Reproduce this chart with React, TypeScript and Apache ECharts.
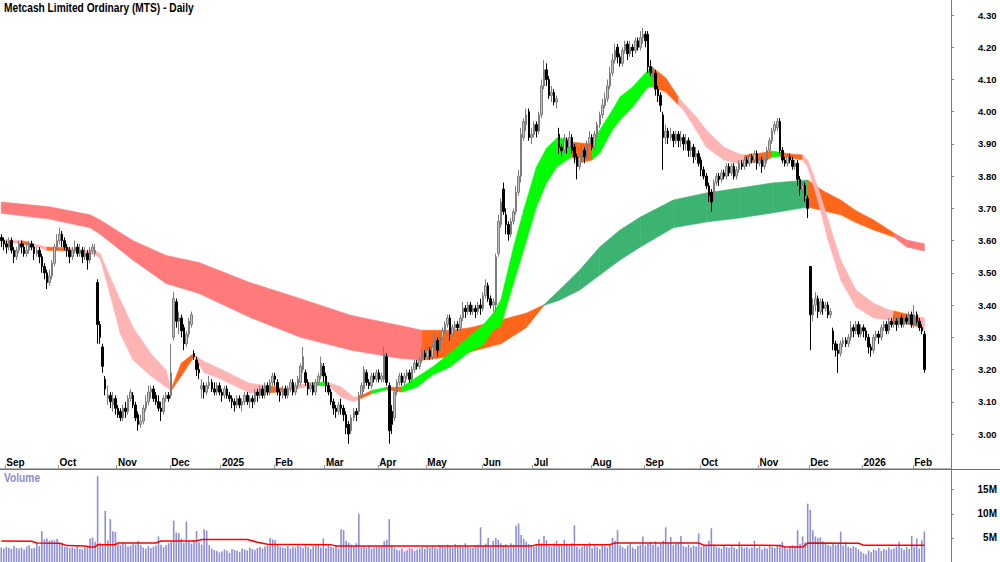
import React, { useEffect, useRef } from 'react';
import * as echarts from 'echarts';

const FONT = "'Liberation Sans', Arial, sans-serif";

// trading days per month (first entry: last two days of Aug 2024)
const months: [string, number][] = [
  ['', 2], ['Sep', 21], ['Oct', 23], ['Nov', 21], ['Dec', 20], ['2025', 21], ['Feb', 20], ['Mar', 21],
  ['Apr', 19], ['May', 22], ['Jun', 20], ['Jul', 23], ['Aug', 21], ['Sep', 22], ['Oct', 23], ['Nov', 20],
  ['Dec', 21], ['2026', 20], ['Feb', 5],
];
const padDays = 10;

// [open, close, low, high]
const candles: number[][] = [
  // Aug-Sep 2024
  [3.61,3.60,3.58,3.62],[3.60,3.59,3.57,3.61],[3.59,3.58,3.56,3.60],[3.58,3.60,3.57,3.61],[3.60,3.57,3.56,3.61],
  [3.57,3.55,3.53,3.58],[3.55,3.57,3.54,3.58],[3.57,3.59,3.56,3.60],[3.59,3.58,3.56,3.60],[3.58,3.56,3.55,3.59],
  [3.56,3.57,3.55,3.59],[3.57,3.59,3.56,3.60],[3.59,3.58,3.57,3.60],[3.58,3.56,3.54,3.59],[3.56,3.57,3.55,3.58],
  [3.57,3.55,3.53,3.58],[3.55,3.52,3.50,3.56],[3.52,3.50,3.48,3.53],[3.50,3.47,3.45,3.51],[3.47,3.49,3.46,3.51],
  [3.49,3.53,3.48,3.54],[3.53,3.58,3.52,3.59],[3.58,3.60,3.57,3.62],
  // Oct
  [3.60,3.62,3.59,3.64],[3.62,3.60,3.58,3.63],[3.60,3.58,3.57,3.61],[3.58,3.57,3.55,3.59],[3.57,3.55,3.53,3.58],
  [3.55,3.57,3.54,3.58],[3.57,3.58,3.56,3.60],[3.58,3.56,3.55,3.59],[3.56,3.57,3.55,3.59],[3.57,3.55,3.53,3.58],
  [3.55,3.56,3.54,3.58],[3.56,3.54,3.51,3.57],[3.54,3.57,3.53,3.58],[3.57,3.58,3.56,3.59],[3.56,3.57,3.55,3.59],
  [3.47,3.34,3.28,3.48],[3.34,3.30,3.28,3.35],[3.27,3.21,3.19,3.28],[3.17,3.14,3.12,3.18],[3.11,3.12,3.09,3.15],
  [3.12,3.10,3.08,3.13],[3.09,3.11,3.07,3.13],[3.11,3.08,3.06,3.12],
  // Nov
  [3.08,3.06,3.05,3.09],[3.07,3.05,3.04,3.08],[3.05,3.08,3.04,3.09],[3.08,3.07,3.05,3.10],[3.07,3.11,3.06,3.12],
  [3.11,3.13,3.10,3.14],[3.12,3.09,3.08,3.13],[3.09,3.05,3.04,3.10],[3.06,3.03,3.01,3.07],[3.03,3.04,3.02,3.06],
  [3.04,3.08,3.03,3.09],[3.08,3.10,3.07,3.12],[3.10,3.13,3.09,3.15],[3.13,3.14,3.11,3.15],[3.14,3.11,3.10,3.15],
  [3.12,3.10,3.09,3.13],[3.10,3.08,3.07,3.12],[3.08,3.07,3.04,3.10],[3.07,3.11,3.06,3.12],[3.11,3.12,3.10,3.13],
  [3.12,3.11,3.10,3.13],
  // Dec
  [3.12,3.19,3.11,3.28],[3.30,3.42,3.29,3.44],[3.41,3.35,3.33,3.42],[3.35,3.36,3.31,3.38],[3.36,3.32,3.30,3.37],
  [3.33,3.28,3.26,3.34],[3.28,3.31,3.27,3.32],[3.31,3.35,3.30,3.36],[3.34,3.37,3.33,3.38],[3.25,3.24,3.23,3.26],
  [3.23,3.20,3.18,3.24],[3.20,3.19,3.17,3.22],[3.14,3.15,3.11,3.17],[3.15,3.13,3.11,3.16],[3.13,3.15,3.12,3.16],
  [3.15,3.16,3.14,3.18],[3.16,3.14,3.13,3.17],[3.14,3.13,3.12,3.16],[3.13,3.15,3.12,3.16],[3.15,3.13,3.12,3.16],
  // Jan 2025
  [3.13,3.12,3.10,3.14],[3.12,3.14,3.11,3.15],[3.14,3.12,3.11,3.15],[3.12,3.11,3.10,3.13],[3.11,3.10,3.08,3.12],
  [3.10,3.09,3.07,3.11],[3.09,3.11,3.08,3.12],[3.11,3.09,3.08,3.12],[3.09,3.10,3.07,3.11],[3.10,3.12,3.09,3.13],
  [3.12,3.10,3.09,3.13],[3.10,3.11,3.08,3.12],[3.11,3.10,3.08,3.12],[3.10,3.13,3.09,3.14],[3.13,3.12,3.10,3.14],
  [3.12,3.14,3.11,3.15],[3.14,3.12,3.11,3.15],[3.12,3.15,3.11,3.16],[3.15,3.13,3.12,3.16],[3.13,3.16,3.12,3.17],
  [3.16,3.18,3.15,3.19],
  // Feb
  [3.18,3.17,3.15,3.19],[3.16,3.13,3.12,3.17],[3.13,3.12,3.10,3.14],[3.12,3.14,3.11,3.15],[3.14,3.12,3.11,3.15],
  [3.12,3.14,3.11,3.15],[3.14,3.16,3.13,3.17],[3.16,3.13,3.12,3.17],[3.13,3.15,3.12,3.16],[3.15,3.17,3.14,3.18],
  [3.16,3.21,3.15,3.22],[3.20,3.24,3.19,3.27],[3.19,3.16,3.15,3.20],[3.16,3.14,3.12,3.17],[3.14,3.15,3.13,3.16],
  [3.15,3.13,3.12,3.16],[3.13,3.16,3.12,3.17],[3.16,3.18,3.15,3.19],[3.18,3.22,3.17,3.24],[3.21,3.18,3.16,3.22],
  // Mar
  [3.18,3.15,3.13,3.19],[3.15,3.13,3.12,3.16],[3.13,3.10,3.09,3.14],[3.10,3.08,3.06,3.11],[3.08,3.07,3.05,3.09],
  [3.07,3.09,3.06,3.10],[3.09,3.08,3.06,3.11],[3.08,3.06,3.04,3.09],[3.06,3.02,3.00,3.07],[3.03,3.00,2.97,3.04],
  [3.01,3.05,3.00,3.06],[3.05,3.07,3.04,3.08],[3.07,3.06,3.04,3.08],[3.07,3.12,3.06,3.13],[3.12,3.15,3.11,3.16],
  [3.14,3.20,3.13,3.21],[3.19,3.16,3.15,3.20],[3.16,3.15,3.14,3.17],[3.15,3.18,3.14,3.19],[3.18,3.17,3.16,3.19],
  [3.17,3.19,3.16,3.20],
  // Apr
  [3.19,3.17,3.16,3.20],[3.17,3.18,3.16,3.19],[3.17,3.25,3.16,3.27],[3.24,3.16,3.15,3.25],[3.15,3.01,2.97,3.16],
  [3.07,3.03,3.00,3.09],[3.05,3.13,3.04,3.14],[3.13,3.16,3.12,3.17],[3.16,3.18,3.15,3.19],[3.18,3.16,3.15,3.19],
  [3.16,3.18,3.15,3.19],[3.18,3.19,3.17,3.20],[3.19,3.17,3.16,3.20],[3.17,3.20,3.16,3.21],[3.20,3.22,3.19,3.23],
  [3.22,3.21,3.20,3.23],[3.21,3.23,3.20,3.24],[3.23,3.25,3.22,3.27],[3.25,3.24,3.23,3.26],
  // May
  [3.24,3.26,3.23,3.27],[3.26,3.24,3.23,3.27],[3.24,3.27,3.23,3.28],[3.27,3.29,3.26,3.31],[3.29,3.26,3.24,3.30],
  [3.26,3.30,3.25,3.31],[3.30,3.32,3.29,3.33],[3.32,3.34,3.31,3.35],[3.34,3.36,3.33,3.37],[3.36,3.31,3.29,3.37],
  [3.31,3.33,3.30,3.34],[3.33,3.34,3.32,3.35],[3.34,3.33,3.32,3.35],[3.33,3.36,3.32,3.37],[3.36,3.39,3.35,3.41],
  [3.39,3.38,3.36,3.40],[3.38,3.40,3.37,3.41],[3.40,3.38,3.37,3.41],[3.38,3.39,3.37,3.40],[3.39,3.38,3.36,3.40],
  [3.38,3.40,3.37,3.41],[3.40,3.39,3.37,3.42],
  // Jun
  [3.39,3.43,3.38,3.44],[3.43,3.46,3.42,3.48],[3.46,3.42,3.41,3.47],[3.42,3.40,3.39,3.43],[3.40,3.41,3.38,3.42],
  [3.40,3.55,3.38,3.56],[3.56,3.66,3.55,3.68],[3.65,3.72,3.64,3.73],[3.76,3.69,3.68,3.78],[3.68,3.65,3.62,3.70],
  [3.65,3.62,3.60,3.66],[3.62,3.66,3.61,3.67],[3.66,3.69,3.65,3.70],[3.69,3.75,3.68,3.77],[3.75,3.80,3.74,3.82],
  [3.80,3.93,3.78,3.95],[3.92,3.97,3.91,3.98],[3.96,3.99,3.94,4.01],[4.00,3.92,3.91,4.01],[3.92,3.93,3.90,3.95],
  // Jul
  [3.93,3.96,3.92,3.97],[3.96,3.94,3.92,3.97],[3.94,3.99,3.93,4.00],[3.99,4.08,3.98,4.10],[4.08,4.13,4.07,4.16],
  [4.13,4.10,4.08,4.15],[4.10,4.05,4.04,4.11],[4.05,4.06,4.03,4.08],[4.06,4.03,4.02,4.07],[4.03,4.04,4.01,4.05],
  [3.93,3.89,3.87,3.95],[3.89,3.88,3.86,3.90],[3.88,3.91,3.87,3.93],[3.91,3.89,3.87,3.92],[3.89,3.92,3.88,3.94],
  [3.92,3.88,3.87,3.93],[3.89,3.86,3.84,3.90],[3.86,3.83,3.79,3.87],[3.83,3.86,3.82,3.87],[3.86,3.88,3.85,3.90],
  [3.88,3.86,3.84,3.89],[3.86,3.90,3.85,3.91],[3.90,3.92,3.89,3.94],
  // Aug
  [3.92,3.89,3.88,3.93],[3.89,3.93,3.88,3.94],[3.93,3.96,3.92,3.97],[3.96,3.99,3.95,4.00],[3.99,4.02,3.98,4.04],
  [4.02,4.04,4.01,4.06],[4.04,4.08,4.03,4.10],[4.08,4.12,4.07,4.14],[4.12,4.16,4.11,4.18],[4.16,4.19,4.15,4.21],
  [4.20,4.17,4.15,4.21],[4.17,4.15,4.14,4.18],[4.15,4.19,4.14,4.20],[4.19,4.21,4.18,4.22],[4.21,4.18,4.16,4.22],
  [4.18,4.20,4.17,4.22],[4.20,4.19,4.17,4.21],[4.19,4.22,4.18,4.23],[4.22,4.20,4.19,4.23],[4.20,4.23,4.19,4.25],
  [4.23,4.24,4.21,4.26],
  // Sep
  [4.24,4.22,4.20,4.25],[4.24,4.14,4.12,4.25],[4.14,4.12,4.11,4.16],[4.12,4.13,4.10,4.14],[4.12,4.07,4.05,4.13],
  [4.07,4.05,4.03,4.08],[4.05,4.02,4.00,4.06],[3.99,3.92,3.82,4.00],[3.92,3.94,3.90,3.96],[3.94,3.92,3.90,3.95],
  [3.92,3.93,3.91,3.95],[3.93,3.91,3.89,3.94],[3.91,3.93,3.90,3.94],[3.93,3.91,3.89,3.94],[3.91,3.92,3.89,3.94],
  [3.92,3.90,3.88,3.93],[3.90,3.91,3.88,3.93],[3.91,3.88,3.86,3.92],[3.88,3.89,3.86,3.91],[3.89,3.86,3.84,3.90],
  [3.86,3.87,3.85,3.89],[3.87,3.84,3.83,3.88],
  // Oct
  [3.85,3.82,3.80,3.86],[3.82,3.80,3.79,3.83],[3.80,3.77,3.76,3.81],[3.77,3.74,3.72,3.78],[3.75,3.72,3.69,3.76],
  [3.73,3.78,3.72,3.79],[3.78,3.80,3.77,3.81],[3.80,3.79,3.77,3.81],[3.79,3.81,3.78,3.82],[3.81,3.80,3.79,3.82],
  [3.80,3.83,3.79,3.84],[3.83,3.81,3.80,3.84],[3.81,3.83,3.80,3.84],[3.83,3.80,3.79,3.84],[3.80,3.82,3.79,3.83],
  [3.82,3.84,3.81,3.85],[3.84,3.83,3.82,3.85],[3.83,3.85,3.82,3.86],[3.85,3.84,3.83,3.86],[3.84,3.86,3.83,3.87],
  [3.86,3.85,3.84,3.87],[3.85,3.87,3.84,3.88],[3.87,3.84,3.82,3.88],
  // Nov
  [3.84,3.85,3.83,3.86],[3.85,3.83,3.81,3.86],[3.83,3.85,3.82,3.86],[3.85,3.88,3.84,3.89],[3.88,3.91,3.87,3.92],
  [3.91,3.94,3.90,3.95],[3.94,3.96,3.93,3.97],[3.95,3.97,3.94,3.98],[3.97,3.88,3.87,3.98],[3.88,3.85,3.84,3.89],
  [3.85,3.84,3.83,3.86],[3.84,3.86,3.83,3.87],[3.86,3.85,3.84,3.87],[3.85,3.83,3.82,3.86],[3.83,3.84,3.82,3.85],
  [3.84,3.79,3.77,3.85],[3.79,3.76,3.74,3.80],[3.76,3.77,3.75,3.78],[3.77,3.74,3.72,3.78],[3.73,3.70,3.67,3.74],
  // Dec
  [3.52,3.37,3.26,3.52],[3.37,3.40,3.35,3.42],[3.40,3.42,3.38,3.44],[3.42,3.38,3.36,3.43],[3.38,3.41,3.37,3.42],
  [3.41,3.39,3.37,3.42],[3.39,3.40,3.38,3.41],[3.40,3.37,3.36,3.41],[3.37,3.38,3.36,3.39],[3.32,3.28,3.26,3.33],
  [3.28,3.26,3.24,3.29],[3.26,3.25,3.19,3.28],[3.25,3.28,3.24,3.29],[3.28,3.29,3.27,3.30],[3.29,3.28,3.27,3.30],
  [3.28,3.30,3.27,3.31],[3.30,3.33,3.29,3.35],[3.33,3.32,3.30,3.34],[3.32,3.34,3.31,3.35],[3.34,3.31,3.30,3.35],
  [3.31,3.33,3.30,3.34],
  // Jan 2026
  [3.33,3.32,3.30,3.34],[3.32,3.30,3.29,3.33],[3.30,3.27,3.25,3.31],[3.27,3.26,3.24,3.28],[3.26,3.30,3.25,3.31],
  [3.30,3.31,3.29,3.32],[3.31,3.30,3.28,3.32],[3.30,3.33,3.29,3.34],[3.33,3.34,3.32,3.35],[3.34,3.32,3.31,3.35],
  [3.32,3.35,3.31,3.36],[3.35,3.34,3.33,3.36],[3.34,3.35,3.33,3.37],[3.35,3.34,3.32,3.36],[3.34,3.36,3.33,3.37],
  [3.36,3.34,3.33,3.37],[3.34,3.36,3.33,3.37],[3.36,3.35,3.34,3.37],[3.35,3.37,3.34,3.38],[3.37,3.34,3.33,3.38],
  // Feb
  [3.34,3.37,3.33,3.40],[3.37,3.35,3.34,3.38],[3.35,3.33,3.32,3.36],[3.33,3.32,3.31,3.34],[3.31,3.20,3.19,3.32],
];

// daily volume, millions
const volumes: number[] = [
  3.0,2.8,3.1,2.9,2.7,3.3,2.9,2.8,3.0,2.6,3.2,3.5,2.8,2.9,4.0,3.3,6.4,4.7,4.9,4.4,4.6,4.5,4.8,
  3.8,4.0,3.2,3.1,2.9,3.0,2.8,3.3,2.7,2.6,3.0,3.1,4.9,5.1,4.2,
  17.8,4.0,3.5,10.6,4.5,8.9,6.4,6.2,
  3.8,3.5,4.0,3.7,3.2,3.4,3.9,3.6,4.4,3.5,3.0,2.8,3.3,2.9,3.2,3.4,5.3,3.6,3.1,3.5,3.9,
  4.2,8.6,6.1,6.0,4.8,4.0,8.4,4.2,3.8,4.5,6.4,4.1,3.6,6.8,6.5,3.5,2.8,2.5,2.3,2.0,
  2.2,2.6,2.4,1.9,2.7,2.5,2.3,2.1,2.8,2.6,2.4,3.0,2.7,2.5,2.9,3.1,2.8,3.2,3.4,5.0,4.7,
  4.5,3.6,3.2,3.0,2.9,3.3,2.8,3.1,3.0,3.4,3.2,2.9,3.5,3.1,2.7,3.3,3.5,3.6,3.0,4.9,
  2.9,3.4,3.1,3.0,3.5,2.8,6.8,6.6,4.4,4.0,3.6,3.2,3.9,10.0,3.0,3.3,2.9,3.5,2.7,3.0,3.2,
  3.1,3.4,4.3,4.6,8.9,3.5,3.0,2.6,2.4,2.8,2.2,2.5,2.9,2.7,2.3,2.6,2.8,3.1,2.7,
  3.2,2.9,3.3,3.0,2.8,3.5,3.4,3.1,3.6,3.2,3.0,3.7,3.3,3.5,3.1,3.9,3.2,3.0,2.9,3.4,3.6,7.2,
  3.4,3.8,5.0,3.3,4.4,5.0,4.6,3.9,3.5,3.7,3.2,3.9,3.6,7.5,8.0,5.6,4.8,4.2,3.7,3.5,
  3.2,3.6,4.7,3.9,5.4,4.5,3.4,3.2,3.9,4.4,3.7,3.5,4.6,3.8,3.4,3.9,7.6,3.2,2.8,3.1,3.6,3.3,4.0,
  2.9,3.4,3.1,2.7,3.6,3.3,3.0,3.8,5.0,4.4,6.6,3.5,3.1,2.8,3.4,3.9,3.0,2.7,3.3,3.6,5.3,
  3.4,3.8,4.1,3.6,4.3,3.2,3.9,4.4,7.2,4.0,5.2,3.5,3.8,4.2,5.4,3.3,3.1,3.6,3.0,3.4,3.2,5.9,
  3.1,3.5,3.3,4.4,7.0,3.6,3.2,3.0,2.8,3.4,3.1,2.9,3.3,3.0,2.7,4.2,3.2,2.9,3.1,2.8,3.0,4.4,2.9,
  3.2,2.6,3.0,2.8,3.3,3.1,2.9,3.4,3.6,4.2,3.0,2.7,3.2,3.5,3.3,6.6,3.8,5.3,4.1,12.1,
  10.8,6.6,5.3,5.0,5.1,4.3,3.9,3.6,3.3,3.8,3.5,3.9,6.3,3.4,4.2,3.1,2.9,3.3,3.0,2.6,2.2,
  1.8,1.6,2.4,2.0,2.6,2.4,2.9,2.3,2.7,2.5,3.0,2.6,2.8,3.2,4.2,2.9,2.5,3.1,2.7,5.4,3.2,4.9,2.8,4.5,6.3,
];

// volume moving average, [day index, millions]
const volumeMA: number[][] = [
  [0,4.35],[12,4.3],[14,3.95],[23,3.9],[26,3.4],[33,3.3],[35,3.1],[37,3.1],[38,3.6],[45,3.6],[46,3.95],
  [61,3.95],[63,4.35],[77,4.35],[79,4.65],[97,4.65],[101,4.1],[105,3.7],[130,3.6],[132,3.3],[209,3.3],
  [211,3.6],[240,3.6],[242,3.95],[275,3.95],[277,3.5],[307,3.45],[309,3.1],[316,3.1],[318,3.95],[338,3.9],
  [340,3.5],[364,3.5],
];

// short-term ribbon: [day index, upper, lower, colour code]
const shortRibbon: number[][] = [
  [0,3.605,3.595,0],[8,3.600,3.590,1],[11,3.595,3.585,0],[14,3.588,3.580,0],[18,3.580,3.570,1],
  [27,3.578,3.568,0],[33,3.570,3.560,0],[37,3.568,3.556,0],[39,3.560,3.545,0],[43,3.486,3.430,0],
  [47,3.415,3.310,0],[52,3.330,3.229,0],[59,3.250,3.180,0],[65,3.198,3.146,0],[67,3.140,3.134,1],
  [71,3.220,3.180,1],[75,3.245,3.228,1],[76,3.246,3.242,0],[80,3.225,3.190,0],[85,3.207,3.176,0],
  [98,3.157,3.127,0],[106,3.150,3.128,1],[111,3.142,3.132,0],[123,3.160,3.150,2],[129,3.160,3.150,0],
  [134,3.146,3.115,0],[139,3.115,3.100,0],[141,3.115,3.108,1],[146,3.135,3.125,2],[152,3.145,3.137,1],
  [158,3.146,3.130,2],[164,3.177,3.146,2],[170,3.208,3.183,2],[177,3.251,3.208,2],[184,3.298,3.251,2],
  [190,3.338,3.276,2],[194,3.375,3.323,2],[197,3.416,3.335,2],[202,3.580,3.468,2],[206,3.695,3.571,2],
  [211,3.828,3.704,2],[215,3.887,3.779,2],[219,3.918,3.828,2],[223,3.918,3.850,2],[225,3.906,3.859,1],
  [228,3.903,3.841,1],[233,3.900,3.850,2],[236,3.943,3.872,2],[241,4.005,3.943,2],[244,4.046,3.974,2],
  [249,4.077,4.015,2],[255,4.129,4.077,2],[257,4.136,4.077,1],[262,4.105,4.061,1],[267,4.046,4.021,0],
  [269,4.027,4.005,0],[274,3.984,3.943,0],[278,3.943,3.890,0],[285,3.890,3.850,0],[290,3.872,3.840,0],
  [293,3.865,3.841,1],[300,3.872,3.844,1],[304,3.878,3.859,2],[307,3.874,3.862,1],[311,3.869,3.856,1],
  [316,3.866,3.850,0],[318,3.850,3.828,0],[322,3.766,3.726,0],[326,3.664,3.602,0],[331,3.540,3.478,0],
  [337,3.447,3.394,0],[344,3.406,3.360,0],[350,3.385,3.354,0],[352,3.382,3.351,1],[362,3.363,3.332,0],
  [364,3.360,3.323,0],
];

// long-term ribbon: [day index, upper, lower, colour code]
const longRibbon: number[][] = [
  [0,3.720,3.685,0],[19,3.705,3.667,0],[35,3.680,3.640,0],[39,3.664,3.620,0],[52,3.600,3.539,0],
  [65,3.554,3.467,0],[78,3.532,3.436,0],[98,3.470,3.362,0],[118,3.420,3.300,0],[138,3.368,3.260,0],
  [157,3.337,3.235,0],[166,3.322,3.229,1],[177,3.322,3.240,1],[185,3.330,3.255,1],[197,3.354,3.280,1],
  [207,3.375,3.330,1],[214,3.401,3.399,2],[220,3.446,3.415,2],[228,3.508,3.446,2],[236,3.580,3.493,2],
  [244,3.633,3.540,2],[252,3.673,3.580,2],[265,3.726,3.640,2],[278,3.748,3.658,2],[291,3.763,3.670,2],
  [304,3.779,3.686,2],[318,3.788,3.704,1],[324,3.755,3.693,1],[331,3.726,3.680,1],[337,3.693,3.656,1],
  [344,3.664,3.633,1],[352,3.624,3.611,0],[357,3.602,3.580,0],[364,3.590,3.568,0],
];

const shortColors = ['#ffb4b4', '#ff661a', '#00ff00'];
const longColors = ['#ff7a7a', '#ff661a', '#3cb371'];

const priceTicks = [3.0, 3.1, 3.2, 3.3, 3.4, 3.5, 3.6, 3.7, 3.8, 3.9, 4.0, 4.1, 4.2, 4.3];
const volumeTicks = [5, 10, 15];

const PRICE_MIN = 2.938;
const PRICE_MAX = 4.3466;
const VOL_MAX = 19.3;

const dateLabels: string[] = [];
months.forEach(([name, n]) => {
  for (let k = 0; k < n; k++) dateLabels.push(k === 0 ? name : '');
});
for (let k = 0; k < padDays; k++) dateLabels.push('');
const categories = dateLabels.map((_, i) => String(i));

function ribbonSeries(samples: number[][], colors: string[], z: number) {
  return {
    type: 'custom',
    xAxisIndex: 0,
    yAxisIndex: 0,
    z,
    silent: true,
    data: samples.map((s) => [s[0], s[1], s[2]]),
    encode: { x: 0, y: [1, 2] },
    renderItem: (params: any, api: any) => {
      const i = params.dataIndex;
      if (i >= samples.length - 1) return null;
      const a = samples[i];
      const b = samples[i + 1];
      const pts = [
        api.coord([a[0], a[1]]),
        api.coord([b[0], b[1]]),
        api.coord([b[0], b[2]]),
        api.coord([a[0], a[2]]),
      ];
      const c = colors[a[3]];
      return { type: 'polygon', shape: { points: pts }, style: { fill: c, stroke: c, lineWidth: 0.6 } };
    },
  };
}

export default function App() {
  const ref = useRef<HTMLDivElement>(null);
  useEffect(() => {
    document.body.style.margin = '0';
    if (!ref.current) return;
    const chart = echarts.init(ref.current, undefined, { renderer: 'svg' });
    const labelInterval = (i: number) => dateLabels[i] !== '';
    chart.setOption({
      animation: false,
      backgroundColor: '#ffffff',
      grid: [
        { left: 0, right: 49, top: 0, height: 454 },
        { left: 0, right: 49, top: 469, height: 93 },
        { left: 0, right: 49, top: 455, height: 14 },
      ],
      xAxis: [
        { gridIndex: 0, type: 'category', data: categories, show: false },
        { gridIndex: 1, type: 'category', data: categories, show: false },
        {
          gridIndex: 2, type: 'category', data: categories, position: 'top',
          axisLine: { show: true, lineStyle: { color: '#9a9a9a', width: 1.5 } },
          axisTick: { show: true, inside: false, length: 4, interval: labelInterval, lineStyle: { color: '#9a9a9a' } },
          axisLabel: {
            inside: true, interval: labelInterval, margin: 2, align: 'left',
            formatter: (_v: string, i: number) => dateLabels[i],
            fontFamily: FONT, fontSize: 10, fontWeight: 'bold', color: '#000',
          },
          splitLine: { show: false },
        },
      ],
      yAxis: [
        {
          gridIndex: 0, type: 'value', position: 'right', min: PRICE_MIN, max: PRICE_MAX,
          axisLine: { show: false }, splitLine: { show: false },
          axisTick: { show: true, length: 3, customValues: priceTicks, lineStyle: { color: '#888' } },
          axisLabel: {
            customValues: priceTicks, formatter: (v: number) => v.toFixed(2), align: 'left', margin: 27,
            fontFamily: FONT, fontSize: 9.5, fontWeight: 'bold', color: '#000',
          },
        },
        {
          gridIndex: 1, type: 'value', position: 'right', min: 0, max: VOL_MAX,
          axisLine: { show: false }, splitLine: { show: false },
          axisTick: { show: true, length: 3, customValues: volumeTicks, lineStyle: { color: '#888' } },
          axisLabel: {
            customValues: volumeTicks, formatter: (v: number) => `${v}M`, align: 'right', margin: 46,
            fontFamily: FONT, fontSize: 10, fontWeight: 'bold', color: '#000',
          },
        },
        { gridIndex: 2, type: 'value', show: false },
      ],
      graphic: [
        {
          type: 'text', x: 4, y: 2, scaleX: 0.85, z: 10,
          style: { text: 'Metcash Limited Ordinary (MTS) - Daily', fontFamily: FONT, fontSize: 12, fontWeight: 'bold', fill: '#000', verticalAlign: 'top' },
        },
        {
          type: 'text', x: 4, y: 472, scaleX: 0.85, z: 10,
          style: { text: 'Volume', fontFamily: FONT, fontSize: 12, fontWeight: 'bold', fill: '#8c8cca', verticalAlign: 'top' },
        },
        { type: 'line', shape: { x1: 951.5, y1: 0, x2: 951.5, y2: 562 }, style: { stroke: '#7a7a7a', lineWidth: 1 }, z: 10 },
        { type: 'line', shape: { x1: 0, y1: 469.5, x2: 1000, y2: 469.5 }, style: { stroke: '#707070', lineWidth: 1 }, z: 10 },
      ],
      series: [
        ribbonSeries(longRibbon, longColors, 1),
        ribbonSeries(shortRibbon, shortColors, 2),
        {
          type: 'candlestick',
          xAxisIndex: 0, yAxisIndex: 0, z: 3,
          barWidth: 2,
          data: candles,
          itemStyle: { color: '#c4c4c4', color0: '#000000', borderColor: '#7c7c7c', borderColor0: '#000000', borderWidth: 1 },
        },
        {
          type: 'bar',
          xAxisIndex: 1, yAxisIndex: 1,
          barWidth: 1.6,
          data: volumes,
          itemStyle: { color: '#8e8ed8' },
        },
        {
          type: 'line',
          xAxisIndex: 1, yAxisIndex: 1, z: 4,
          data: volumeMA,
          symbol: 'none',
          lineStyle: { color: '#ff0000', width: 1.5 },
        },
      ],
    });
    return () => chart.dispose();
  }, []);
  return <div ref={ref} style={{ position: 'absolute', left: 0, top: 0, width: 1000, height: 562 }} />;
}
